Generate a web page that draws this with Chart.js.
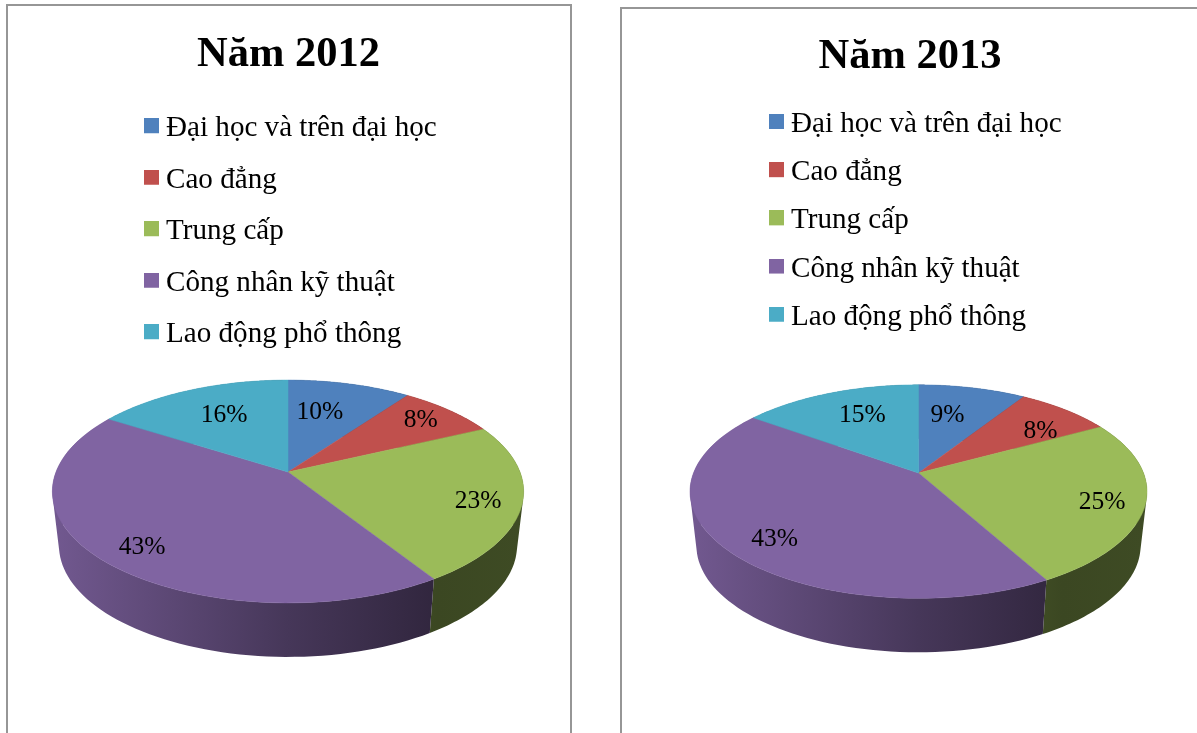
<!DOCTYPE html>
<html lang="vi">
<head>
    <meta charset="UTF-8">
    <title>Năm 2012 - Năm 2013</title>
    <script src="https://cdn.jsdelivr.net/npm/chart.js"></script>
    <style>
        html, body { margin: 0; height: 100%; overflow: hidden; background: #fff; }
        .panel { position: absolute; border: 2px solid #969696; box-sizing: border-box; height: 900px; }
        #panel2012 { left: 6px; top: 4px; width: 566px; }
        #panel2013 { left: 620px; top: 7px; width: 700px; }
        canvas { position: absolute; top: 0; }
        #chart2012 { left: 0; }
        #chart2013 { left: 620px; }
    </style>
</head>
<body>
    <div class="panel" id="panel2012"></div>
    <div class="panel" id="panel2013"></div>
    <canvas id="chart2012" width="577" height="733"></canvas>
    <canvas id="chart2013" width="580" height="733"></canvas>

    <script>
        const categories = ['Đại học và trên đại học', 'Cao đẳng', 'Trung cấp', 'Công nhân kỹ thuật', 'Lao động phổ thông'];
        const values2012 = [10, 8, 23, 43, 16];
        const values2013 = [9, 8, 25, 43, 15];
        const sliceColors = ['#4f81bd', '#c0504d', '#9bbb59', '#8064a2', '#4bacc6'];

        const FONT = '"Liberation Serif", "Times New Roman", serif';

        function shade(hex, f) {
            const n = parseInt(hex.slice(1), 16);
            return `rgb(${(n >> 16) * f},${((n >> 8) & 255) * f},${(n & 255) * f})`;
        }

        // legend square, as a small canvas so the text can sit closer than the default gap
        // (taller than the square, with the spare room below, to lift it a little over the text)
        function swatch(color) {
            const c = document.createElement('canvas');
            c.width = 15;
            c.height = 21;
            const g = c.getContext('2d');
            g.fillStyle = color;
            g.fillRect(0, 0, 15, 15);
            return c;
        }

        // Chart.js has no tilted pie: reuse the angles of the arcs and project them by hand
        const pie3d = {
            id: 'pie3d',
            afterLayout(chart, args, o) {
                const legend = chart.legend;
                legend.left = o.legendX;
                legend.top = o.legendY;
                // the legend clips to its box
                legend.right = o.legendX + 400;
                legend.bottom = o.legendY + 400;
            },
            beforeDatasetDraw(chart, args, o) {
                const ctx = chart.ctx;
                const arcs = args.meta.data;
                const topAt = t => {
                    const w = 1 + o.k * Math.cos(t);
                    return [o.cx + o.rx * Math.sin(t) / w, o.cy - o.ry * Math.cos(t) / w];
                };
                const lowAt = t => {
                    const w = 1 + o.k * Math.cos(t);
                    return [o.cx + o.shrink * o.rx * Math.sin(t) / w, o.cy + o.depth - o.ry * Math.cos(t) / w];
                };
                const steps = 80;

                // sides first, the top face covers the back part of them
                arcs.forEach((arc, i) => {
                    const a = arc.startAngle + Math.PI / 2;
                    const b = arc.endAngle + Math.PI / 2;
                    const g = ctx.createLinearGradient(o.cx - o.rx, 0, o.cx + o.rx, 0);
                    g.addColorStop(0, shade(sliceColors[i], 0.88));
                    g.addColorStop(0.5, shade(sliceColors[i], 0.55));
                    g.addColorStop(0.82, shade(sliceColors[i], 0.38));
                    g.addColorStop(1, shade(sliceColors[i], 0.40));
                    ctx.fillStyle = g;
                    // all strips in one path, same winding, so no seams show between them
                    ctx.beginPath();
                    for (let s = 0; s < steps; s++) {
                        const t0 = a + (b - a) * s / steps;
                        const t1 = a + (b - a) * (s + 1) / steps;
                        const quad = [topAt(t0), topAt(t1), lowAt(t1), lowAt(t0)];
                        let area = 0;
                        quad.forEach((p, n) => {
                            const q = quad[(n + 1) % 4];
                            area += p[0] * q[1] - q[0] * p[1];
                        });
                        if (area < 0) quad.reverse();
                        ctx.moveTo(...quad[0]);
                        ctx.lineTo(...quad[1]);
                        ctx.lineTo(...quad[2]);
                        ctx.lineTo(...quad[3]);
                        ctx.closePath();
                    }
                    ctx.fill();
                });

                arcs.forEach((arc, i) => {
                    const a = arc.startAngle + Math.PI / 2;
                    const b = arc.endAngle + Math.PI / 2;
                    ctx.beginPath();
                    ctx.moveTo(o.cx, o.cy);
                    for (let s = 0; s <= steps; s++) {
                        ctx.lineTo(...topAt(a + (b - a) * s / steps));
                    }
                    ctx.closePath();
                    ctx.fillStyle = sliceColors[i];
                    ctx.strokeStyle = sliceColors[i];
                    ctx.lineWidth = 0.5;
                    ctx.fill();
                    ctx.stroke();
                });

                ctx.fillStyle = '#000';
                ctx.font = '25.5px ' + FONT;
                ctx.textAlign = 'center';
                ctx.textBaseline = 'middle';
                const values = chart.data.datasets[0].data;
                arcs.forEach((arc, i) => {
                    const mid = (arc.startAngle + arc.endAngle) / 2 + Math.PI / 2;
                    const x = o.cx + o.rx * o.labelX[i] * Math.sin(mid);
                    const y = o.cy - o.ry * o.labelY[i] * Math.cos(mid) + 1.5;
                    ctx.fillText(values[i] + '%', x, y);
                });
                return false;
            }
        };

        function drawPie(id, title, values, titleTop, legendPadding, geometry) {
            new Chart(document.getElementById(id), {
                type: 'pie',
                plugins: [pie3d],
                data: {
                    labels: categories,
                    datasets: [{ data: values, backgroundColor: sliceColors }]
                },
                options: {
                    responsive: false,
                    animation: false,
                    plugins: {
                        tooltip: { enabled: false },
                        title: {
                            display: true,
                            text: title,
                            color: '#000',
                            font: { family: FONT, size: 42.5, weight: 'bold', lineHeight: 1.2 },
                            padding: { top: titleTop, bottom: 0 }
                        },
                        legend: {
                            position: 'left',
                            align: 'start',
                            labels: {
                                usePointStyle: true,
                                pointStyleWidth: 0.1,
                                boxHeight: 15,
                                padding: legendPadding,
                                color: '#000',
                                font: { family: FONT, size: 29.1, lineHeight: 1.2 },
                                generateLabels(chart) {
                                    return Chart.overrides.pie.plugins.legend.labels.generateLabels(chart)
                                        .map(item => ({ ...item, pointStyle: swatch(item.fillStyle) }));
                                }
                            }
                        },
                        pie3d: geometry
                    }
                }
            });
        }

        drawPie('chart2012', 'Năm 2012', values2012, 30, 22.4, {
            cx: 288, cy: 472, rx: 232, ry: 108, k: 0.175, depth: 54, shrink: 0.972,
            legendX: 129, legendY: 91.75,
            labelX: [0.446, 0.743, 0.853, 0.89, 0.572],
            labelY: [0.6, 0.77, 0.93, 0.97, 0.62]
        });

        drawPie('chart2013', 'Năm 2013', values2013, 32, 19.1, {
            cx: 298.5, cy: 473, rx: 225, ry: 103.5, k: 0.174, depth: 54, shrink: 0.972,
            legendX: 137.25, legendY: 90.8,
            labelX: [0.46, 0.744, 0.85, 0.853, 0.55],
            labelY: [0.6, 0.61, 0.97, 0.95, 0.64]
        });
    </script>
</body>
</html>
